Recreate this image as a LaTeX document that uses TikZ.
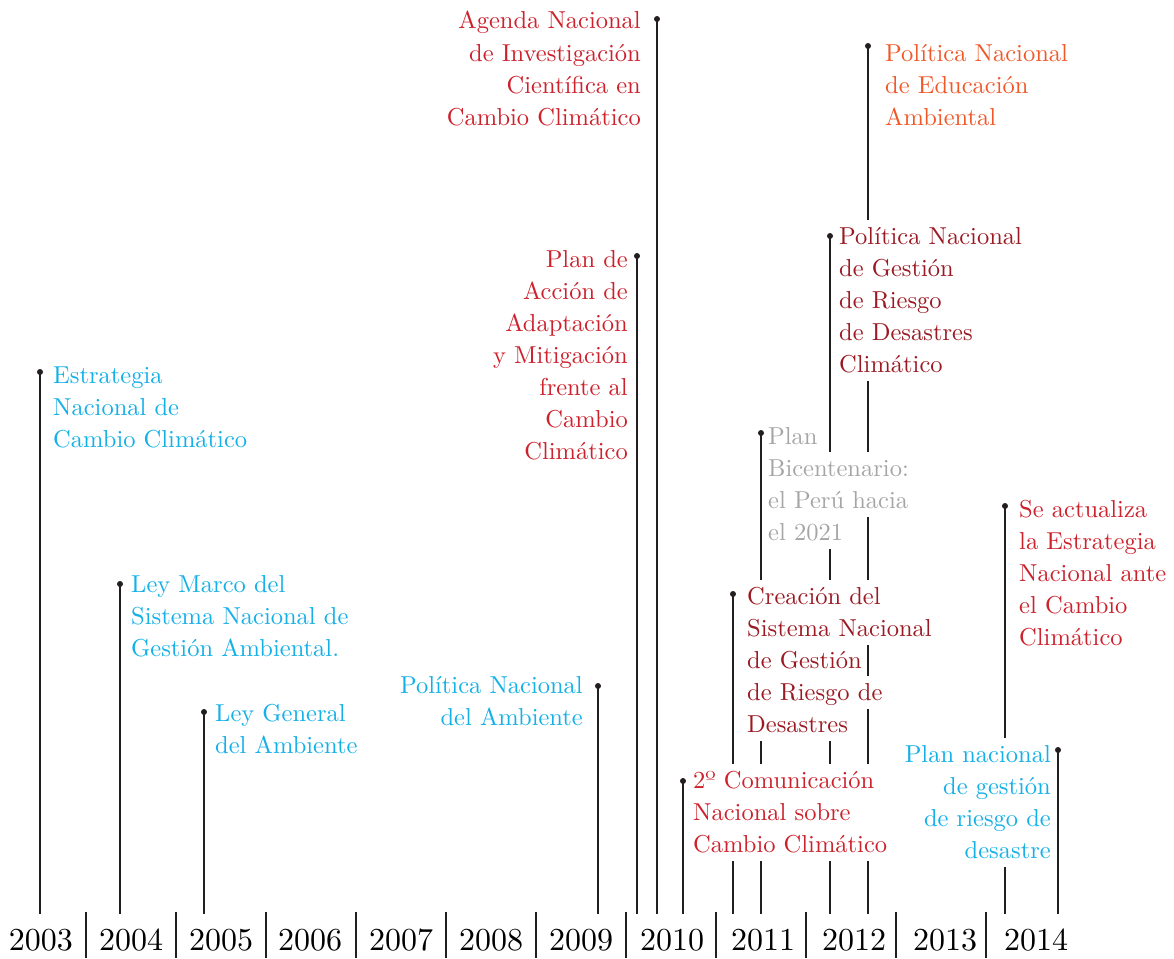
\documentclass[tikz,border=0pt]{standalone}
\usepackage{fontspec}
\newfontfamily\lmten{lmroman10-regular.otf}
\definecolor{cyanc}{RGB}{20,176,232}
\definecolor{redc}{RGB}{205,33,44}
\definecolor{darkredc}{RGB}{155,25,34}
\definecolor{orangec}{RGB}{240,88,40}
\definecolor{grayc}{RGB}{165,165,167}
\definecolor{linec}{RGB}{35,31,32}
\tikzset{
  lbl/.style={font=\lmten\fontsize{24.5}{32}\selectfont, inner xsep=4pt, inner ysep=0pt, text height=24pt, text depth=9pt, fill=white},
  L/.style={lbl, anchor=base west},
  R/.style={lbl, anchor=base east},
  evline/.style={line width=1.5pt, draw=linec},
  sepline/.style={line width=1.2pt, draw=linec},
  yr/.style={font=\lmten\fontsize{32}{36}\selectfont, anchor=base, inner sep=0pt},
}
\begin{document}
\begin{tikzpicture}[x=1pt,y=-1pt]
\useasboundingbox (0,0) rectangle (1174,958);
% event tops and bottoms
\foreach \n/\x/\y in {e1/40/372, e2/120/584, e3/204/712, e4/598/686, e5/637/256, e6/657/19, e7/683/781, e8/733/594, e9/761/433, e10/830/236, e11/868/46, e12/1005/506, e13/1058/750}{
  \coordinate (\n top) at (\x,\y);
  \coordinate (\n bot) at (\x,914);
  \draw[evline] (\n top) -- (\n bot);
}
% year separators
\foreach \n/\x in {1/86,2/176,3/266,4/356,5/446,6/536,7/626,8/716,9/806,10/896,11/986}{
  \coordinate (s\n t) at (\x,912);
  \coordinate (s\n b) at (\x,958);
  \draw[sepline] (s\n t) -- (s\n b);
}
% years
\foreach \yy/\x in {2003/41,2004/131,2005/221,2006/310,2007/401,2008/491,2009/581,2010/672,2011/763,2012/854,2013/945,2014/1036}{
  \node[yr] (y\yy) at (\x,950) {\yy};
}
\begin{scope}[every node/.append style={text=cyanc}]
% Block 1
\node[L] (t1a) at (49,383) {Estrategia};
\node[L] (t1b) at (49,415) {Nacional de};
\node[L] (t1c) at (49,447) {Cambio Climático};
% Block 2
\node[L] (t2a) at (127,592) {Ley Marco del};
\node[L] (t2b) at (127,624) {Sistema Nacional de};
\node[L] (t2c) at (127,656) {Gestión Ambiental.};
% Block 3
\node[L] (t3a) at (211,721) {Ley General};
\node[L] (t3b) at (211,753) {del Ambiente};
% Block 4
\node[R] (t4a) at (587,693) {Política Nacional};
\node[R] (t4b) at (587,725) {del Ambiente};
% Block 13
\node[R] (t13a) at (1055,762) {Plan nacional};
\node[R] (t13b) at (1055,794) {de gestión};
\node[R] (t13c) at (1055,826) {de riesgo de};
\node[R] (t13d) at (1055,858) {desastre};
\end{scope}
\begin{scope}[every node/.append style={text=redc}]
% Block 5
\node[R] (t5a) at (632,267) {Plan de};
\node[R] (t5b) at (632,299) {Acción de};
\node[R] (t5c) at (632,331) {Adaptación};
\node[R] (t5d) at (632,363) {y Mitigación};
\node[R] (t5e) at (632,395) {frente al};
\node[R] (t5f) at (632,427) {Cambio};
\node[R] (t5g) at (632,459) {Climático};
% Block 6
\node[R] (t6a) at (645,29) {Agenda Nacional};
\node[R] (t6b) at (645,61) {de Investigación};
\node[R] (t6c) at (645,93) {Científica en};
\node[R] (t6d) at (645,125) {Cambio Climático};
% Block 7
\node[L, minimum width=204pt, align=left, text width=196pt] (t7a) at (689,788) {2º Comunicación};
\node[L, minimum width=204pt, align=left, text width=196pt] (t7b) at (689,820) {Nacional sobre};
\node[L, minimum width=204pt, align=left, text width=196pt] (t7c) at (689,852) {Cambio Climático};
% Block 12
\node[L] (t12a) at (1015,517) {Se actualiza};
\node[L] (t12b) at (1015,549) {la Estrategia};
\node[L] (t12c) at (1015,581) {Nacional ante};
\node[L] (t12d) at (1015,613) {el Cambio};
\node[L] (t12e) at (1015,645) {Climático};
\end{scope}
\begin{scope}[every node/.append style={text=darkredc}]
% Block 8
\node[L] (t8a) at (743,604) {Creación del};
\node[L] (t8b) at (743,636) {Sistema Nacional};
\node[L] (t8c) at (743,668) {de Gestión};
\node[L] (t8d) at (743,700) {de Riesgo de};
\node[L] (t8e) at (743,732) {Desastres};
% Block 10
\node[L] (t10a) at (835,244) {Política Nacional};
\node[L] (t10b) at (835,276) {de Gestión};
\node[L] (t10c) at (835,308) {de Riesgo};
\node[L] (t10d) at (835,340) {de Desastres};
\node[L] (t10e) at (835,372) {Climático};
\end{scope}
\begin{scope}[every node/.append style={text=grayc}]
% Block 9
\node[L] (t9a) at (764,444) {Plan};
\node[L] (t9b) at (764,476) {Bicentenario:};
\node[L] (t9c) at (764,508) {el Perú hacia};
\node[L] (t9d) at (764,540) {el 2021};
\end{scope}
\begin{scope}[every node/.append style={text=orangec}]
% Block 11
\node[L] (t11a) at (881,61) {Política Nacional};
\node[L] (t11b) at (881,93) {de Educación};
\node[L] (t11c) at (881,125) {Ambiental};
\end{scope}
% dots
\foreach \n in {e1,e2,e3,e4,e5,e6,e7,e8,e9,e10,e11,e12,e13}{
  \fill[linec] (\n top) circle (3);
}
\end{tikzpicture}
\end{document}
